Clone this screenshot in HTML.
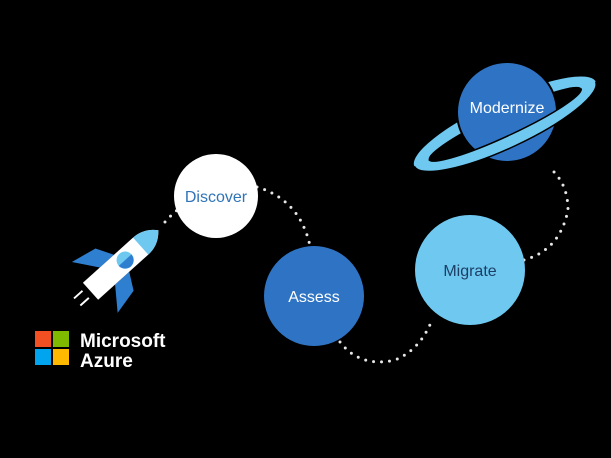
<!DOCTYPE html>
<html><head><style>html,body{margin:0;padding:0;background:#000;}svg{display:block}</style></head>
<body>
<svg width="611" height="458" viewBox="0 0 611 458" xmlns="http://www.w3.org/2000/svg" font-family="'Liberation Sans', sans-serif">
<defs>
<clipPath id="front"><rect x="-200" y="0" width="400" height="100"/></clipPath>
</defs>
<rect width="611" height="458" fill="#000"/>
<g fill="none" stroke="#fff" stroke-width="3" stroke-linecap="round" stroke-dasharray="0 8" opacity="0.9">
<path d="M165 222 Q172 214 180 208"/>
<path d="M257 187 Q300 200 310 246"/>
<path d="M340 342 Q360 368 395 360 Q420 350 432 320"/>
<path d="M524 260 Q560 250 568 210 Q568 185 552 170"/>
</g>
<!-- rocket -->
<g transform="translate(123,262) rotate(-42) scale(0.95)">
<polygon points="-22,-12 -2,-12 -12,-30 -40,-36" fill="#2f7fd0"/>
<polygon points="-22,12 -2,12 -12,30 -40,36" fill="#2f7fd0"/>
<path d="M-46 -12 L25 -12 Q40 -12 50 0 Q40 12 25 12 L-46 12 Z" fill="#fff"/>
<path d="M25 -12 Q40 -12 50 0 Q40 12 25 12 Z" fill="#6ec8ef"/>
<circle cx="3" cy="0" r="9" fill="#6ec8ef"/>
<path d="M-6 0 A9 9 0 0 0 12 0 Z" fill="#2f7fd0"/>
<line x1="-52" y1="-6" x2="-64" y2="-6" stroke="#fff" stroke-width="2"/>
<line x1="-52" y1="4" x2="-64" y2="4" stroke="#fff" stroke-width="2"/>
</g>
<circle cx="216" cy="196" r="42" fill="#fff"/>
<text x="216" y="202" text-anchor="middle" font-size="16" fill="#2f74b8">Discover</text>
<circle cx="314" cy="296" r="50" fill="#2f74c4"/>
<text x="314" y="302" text-anchor="middle" font-size="16" fill="#fff">Assess</text>
<circle cx="470" cy="270" r="55" fill="#6ec8ef"/>
<text x="470" y="276" text-anchor="middle" font-size="16" fill="#1d3f66">Migrate</text>
<!-- planet -->
<g transform="translate(505,124) rotate(-25)">
<path d="M-100 0 A100 24 0 1 0 100 0 A100 24 0 1 0 -100 0 Z M-84 0 A84 12 0 1 1 84 0 A84 12 0 1 1 -84 0 Z" fill="#6ec8ef" fill-rule="evenodd"/>
</g>
<circle cx="507" cy="112" r="50" fill="#2f74c4" stroke="#000" stroke-width="2"/>
<g transform="translate(505,124) rotate(-25)">
<g clip-path="url(#front)">
<path d="M-100 0 A100 24 0 1 0 100 0 A100 24 0 1 0 -100 0 Z M-84 0 A84 12 0 1 1 84 0 A84 12 0 1 1 -84 0 Z" fill="#6ec8ef" fill-rule="evenodd" stroke="#000" stroke-width="1.5"/>
</g>
</g>
<text x="507" y="113" text-anchor="middle" font-size="16" fill="#fff">Modernize</text>
<!-- logo -->
<rect x="35" y="331" width="16" height="16" fill="#f25022"/>
<rect x="53" y="331" width="16" height="16" fill="#7fba00"/>
<rect x="35" y="349" width="16" height="16" fill="#00a4ef"/>
<rect x="53" y="349" width="16" height="16" fill="#ffb900"/>
<text x="80" y="347" font-size="19" fill="#fff" font-weight="bold">Microsoft</text>
<text x="80" y="367" font-size="19" fill="#fff" font-weight="bold">Azure</text>
</svg>
</body></html>
